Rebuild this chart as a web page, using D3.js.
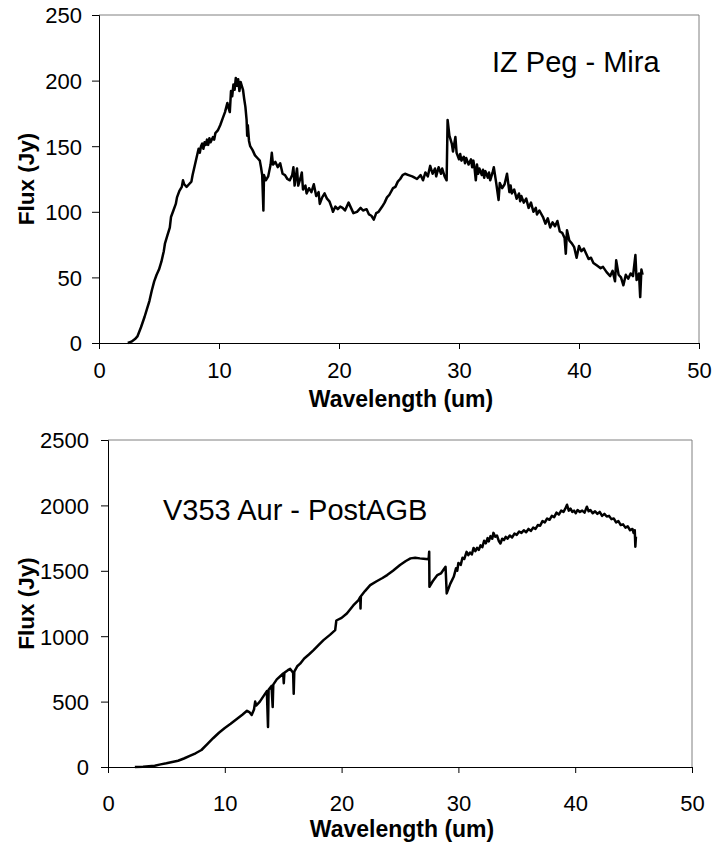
<!DOCTYPE html>
<html>
<head>
<meta charset="utf-8">
<script src="https://cdn.jsdelivr.net/npm/d3@7"></script>
<style>
  html, body { margin: 0; padding: 0; background: #fff; }
  svg { display: block; }
  text { font-family: "Liberation Sans", Arial, sans-serif; fill: #000; }
</style>
</head>
<body>
<svg id="chart" width="713" height="844"></svg>
<script>
// ---------- DATA ----------
const xTicks = [0, 10, 20, 30, 40, 50];
const miraYTicks = [0, 50, 100, 150, 200, 250];
const aurYTicks = [0, 500, 1000, 1500, 2000, 2500];
const miraLabel = "IZ Peg - Mira";
const aurLabel = "V353 Aur - PostAGB";
const xTitle = "Wavelength (um)";
const yTitle = "Flux (Jy)";

// IZ Peg (Mira) spectrum: [wavelength um, flux Jy]
const miraSpectrum = [
  [2.4,0],[2.7,1],[3.0,3],[3.2,5],[3.5,12],[3.8,20],[4.0,26],[4.2,32],[4.4,40],[4.6,47],
  [4.8,52],[5.0,56],[5.2,62],[5.4,70],[5.5,76],[5.7,82],[5.9,88],[6.0,96],[6.2,101],[6.4,106],
  [6.5,111],[6.7,116],[6.9,119],[7.0,124],[7.1,121],[7.3,119],[7.5,121],[7.7,123],[7.8,128],[8.0,136],
  [8.2,144],[8.3,148],[8.4,145],[8.5,150],[8.6,152],[8.7,148],[8.8,153],[8.9,151],[9.0,155],[9.1,151],
  [9.2,156],[9.3,153],[9.5,157],[9.6,155],[9.7,160],[9.9,162],[10.1,166],[10.3,171],[10.5,176],[10.7,183],
  [10.8,179],[10.9,176],[11.0,192],[11.1,188],[11.2,197],[11.3,193],[11.4,202],[11.5,196],[11.6,201],[11.7,192],
  [11.8,199],[11.9,196],[12.0,193],[12.1,186],[12.2,180],[12.3,170],[12.35,158],[12.4,166],[12.5,154],[12.6,150],
  [12.8,147],[13.0,143],[13.2,141],[13.4,139],[13.5,134],[13.6,128],[13.7,101],[13.75,128],[13.9,124],[14.1,127],
  [14.3,136],[14.4,145],[14.5,136],[14.7,138],[14.9,134],[15.1,137],[15.3,129],[15.5,128],[15.7,125],[15.9,124],
  [16.1,128],[16.2,134],[16.3,120],[16.5,133],[16.6,120],[16.8,126],[16.9,130],[17.0,117],[17.2,120],[17.3,114],
  [17.5,118],[17.7,115],[17.9,121],[18.1,112],[18.3,115],[18.4,106],[18.6,111],[18.8,114],[19.0,110],[19.2,108],
  [19.4,103],[19.5,100],[19.7,104],[19.9,102],[20.1,104],[20.3,103],[20.5,101],[20.8,107],[21.0,103],[21.2,99],
  [21.5,100],[21.8,103],[22.0,101],[22.3,102],[22.5,98],[22.7,97],[22.9,94],[23.1,99],[23.3,100],[23.6,104],
  [23.8,107],[24.0,111],[24.2,113],[24.5,118],[24.7,119],[24.9,123],[25.1,125],[25.3,128],[25.5,129],[25.8,128],
  [26.1,127],[26.3,126],[26.5,125],[26.8,128],[27.0,124],[27.2,130],[27.4,127],[27.6,135],[27.8,129],[28.0,133],
  [28.1,127],[28.3,134],[28.5,129],[28.6,133],[28.8,127],[28.97,124],[29.05,170],[29.2,158],[29.4,152],[29.5,146],
  [29.7,157],[29.8,145],[30.0,140],[30.1,144],[30.2,139],[30.4,142],[30.5,137],[30.6,141],[30.8,136],[31.0,140],
  [31.1,134],[31.2,139],[31.3,133],[31.4,124],[31.5,136],[31.6,129],[31.7,133],[31.9,128],[32.0,132],[32.1,126],
  [32.2,131],[32.4,126],[32.5,130],[32.6,124],[32.8,130],[32.9,134],[33.1,122],[33.3,109],[33.4,122],[33.6,118],
  [33.8,121],[34.0,129],[34.2,115],[34.3,120],[34.4,114],[34.6,117],[34.8,110],[35.0,114],[35.1,108],[35.2,112],
  [35.4,107],[35.6,110],[35.8,103],[36.0,107],[36.2,100],[36.4,103],[36.5,98],[36.7,101],[37.0,96],[37.2,91],
  [37.4,95],[37.6,88],[37.8,92],[38.0,89],[38.2,93],[38.4,85],[38.6,84],[38.8,80],[38.9,68],[39.0,86],
  [39.2,78],[39.4,76],[39.6,73],[39.8,65],[40.0,74],[40.2,70],[40.4,72],[40.6,68],[40.8,64],[41.0,65],
  [41.2,61],[41.5,59],[41.8,57],[42.0,58],[42.3,54],[42.6,51],[42.8,55],[43.0,47],[43.1,63],[43.3,52],
  [43.5,50],[43.7,44],[43.9,52],[44.1,49],[44.3,53],[44.5,51],[44.7,67],[44.8,48],[45.0,53],[45.1,35],
  [45.2,56],[45.3,52]
];

// V353 Aur (PostAGB) spectrum: [wavelength um, flux Jy]
const aurSpectrum = [
  [2.3,0],[3.0,2],[4.0,10],[4.5,20],[5.0,28],[5.5,38],[6.0,48],[6.5,65],[7.0,85],[7.5,105],
  [8.0,130],[8.5,175],[9.0,220],[9.5,262],[10.0,298],[10.5,330],[11.0,365],[11.5,400],[11.9,430],[12.1,420],
  [12.3,398],[12.5,440],[12.6,500],[12.7,470],[13.0,500],[13.3,540],[13.6,580],[13.7,306],[13.75,590],[14.0,620],
  [14.1,459],[14.15,630],[14.45,670],[14.7,690],[15.0,715],[15.05,640],[15.1,720],[15.4,740],[15.6,750],[15.85,720],
  [15.9,560],[15.95,730],[16.2,770],[16.45,790],[16.8,830],[17.2,860],[17.6,893],[18.0,930],[18.45,970],[19.0,1010],
  [19.45,1046],[19.55,1120],[20.0,1140],[20.45,1174],[21.0,1235],[21.45,1276],[21.6,1300],[21.62,1212],[21.65,1305],[22.0,1345],
  [22.45,1390],[23.0,1420],[23.5,1445],[23.9,1467],[24.4,1500],[25.0,1544],[25.5,1575],[25.9,1595],[26.3,1600],[26.7,1595],
  [27.0,1592],[27.45,1588],[27.5,1646],[27.52,1378],[27.8,1420],[28.2,1467],[28.5,1480],[28.9,1531],[29.0,1327],[29.3,1400],
  [29.6,1454],[29.8,1520],[29.9,1500],[30.0,1560],[30.2,1545],[30.35,1600],[30.5,1590],[30.7,1645],[30.85,1620],[31.0,1640],
  [31.15,1625],[31.3,1675],[31.45,1650],[31.6,1675],[31.75,1660],[31.9,1695],[32.05,1680],[32.2,1730],[32.35,1710],[32.5,1750],
  [32.6,1725],[32.75,1765],[32.9,1745],[33.0,1790],[33.15,1760],[33.3,1770],[33.45,1730],[33.6,1709],[33.75,1745],[33.9,1735],
  [34.05,1760],[34.2,1745],[34.4,1770],[34.6,1755],[34.8,1785],[35.0,1775],[35.2,1800],[35.4,1790],[35.6,1810],[35.8,1795],
  [36.0,1820],[36.2,1805],[36.4,1830],[36.6,1820],[36.8,1850],[37.0,1845],[37.2,1880],[37.4,1870],[37.6,1900],[37.8,1890],
  [38.0,1920],[38.2,1910],[38.4,1945],[38.6,1930],[38.8,1960],[39.0,1950],[39.15,1975],[39.3,2005],[39.45,1960],[39.6,1975],
  [39.75,1950],[39.9,1960],[40.05,1940],[40.2,1965],[40.4,1950],[40.6,1960],[40.8,1945],[41.0,1990],[41.15,1955],[41.3,1965],
  [41.5,1940],[41.7,1955],[41.9,1935],[42.1,1950],[42.3,1920],[42.5,1935],[42.7,1915],[42.9,1920],[43.1,1895],[43.3,1900],
  [43.5,1870],[43.7,1880],[43.9,1850],[44.1,1855],[44.3,1830],[44.5,1840],[44.7,1810],[44.9,1820],[45.0,1790],[45.1,1810],
  [45.15,1684],[45.2,1760]
];

// ---------- DRAW ----------
const svg = d3.select("#chart");

function panel(cfg) {
  const { left, right, top, bottom, yMax, yTicks, data, label, labelX, labelY,
          yLabelRight, xLabelBase, xTitleBase, yTitleX } = cfg;
  const x = d3.scaleLinear().domain([0, 50]).range([left, right]);
  const y = d3.scaleLinear().domain([0, yMax]).range([bottom, top]);
  const g = svg.append("g");

  // plot-area frame (top & right grey)
  g.append("path")
    .attr("d", `M${left},${top}H${right}V${bottom}`)
    .attr("fill", "none").attr("stroke", "#808080").attr("stroke-width", 1);

  // spectrum line
  const line = d3.line().x(d => x(d[0])).y(d => y(d[1]));
  g.append("path").datum(data)
    .attr("d", line)
    .attr("fill", "none").attr("stroke", "#000").attr("stroke-width", 2.5)
    .attr("stroke-linejoin", "round");

  // y axis
  const yAxis = d3.axisLeft(y).tickValues(yTicks).tickSize(7).tickPadding(0).tickFormat(d3.format("d"));
  const ya = g.append("g").attr("transform", `translate(${left},0)`).call(yAxis);
  ya.select(".domain").attr("stroke", "#000");
  ya.selectAll(".tick line").attr("stroke", "#000");
  ya.selectAll(".tick text")
    .attr("x", -(left - yLabelRight))
    .attr("dy", "0.36em")
    .style("font-size", "22px").style("font-family", "Liberation Sans, Arial, sans-serif");

  // x axis
  const xAxis = d3.axisBottom(x).tickValues(xTicks).tickSize(6).tickFormat(d3.format("d"));
  const xa = g.append("g").attr("transform", `translate(0,${bottom})`).call(xAxis);
  xa.select(".domain").attr("stroke", "#000");
  xa.selectAll(".tick line").attr("stroke", "#000");
  xa.selectAll(".tick text")
    .attr("y", xLabelBase - bottom).attr("dy", 0)
    .style("font-size", "22px").style("font-family", "Liberation Sans, Arial, sans-serif");

  // titles
  g.append("text")
    .attr("x", (left + right) / 2 + 2).attr("y", xTitleBase)
    .attr("text-anchor", "middle")
    .style("font-size", "23px").style("font-weight", "bold")
    .text(xTitle);
  g.append("text")
    .attr("transform", `translate(${yTitleX},${(top + bottom) / 2}) rotate(-90)`)
    .attr("text-anchor", "middle")
    .style("font-size", "22.5px").style("font-weight", "bold")
    .text(yTitle);

  // annotation
  g.append("text")
    .attr("x", labelX).attr("y", labelY)
    .style("font-size", "29px")
    .text(label);
}

panel({
  left: 99, right: 699, top: 15, bottom: 343, yMax: 250, yTicks: miraYTicks,
  data: miraSpectrum, label: miraLabel, labelX: 492, labelY: 72,
  yLabelRight: 82, xLabelBase: 378, xTitleBase: 407, yTitleX: 34
});

panel({
  left: 108, right: 692, top: 440, bottom: 767, yMax: 2500, yTicks: aurYTicks,
  data: aurSpectrum, label: aurLabel, labelX: 163, labelY: 520,
  yLabelRight: 89, xLabelBase: 811, xTitleBase: 837, yTitleX: 34
});
</script>
</body>
</html>
